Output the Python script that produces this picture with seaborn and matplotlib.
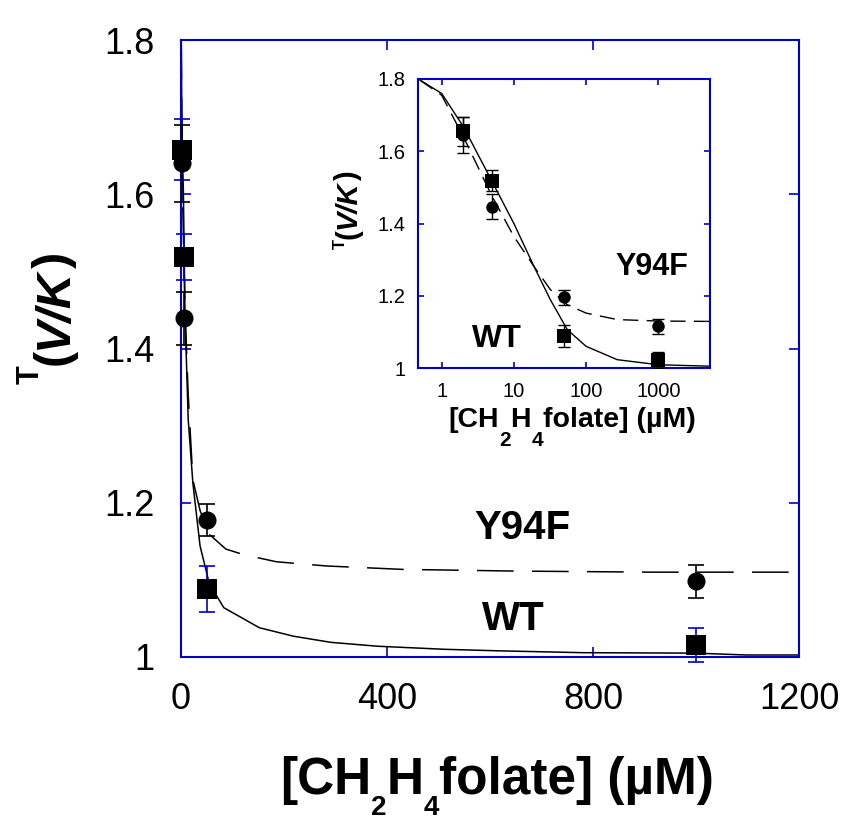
import matplotlib
matplotlib.use("Agg")
import matplotlib.pyplot as plt
import seaborn as sns
from matplotlib.ticker import FuncFormatter, NullLocator
from matplotlib.font_manager import FontProperties

# ---------------- data ----------------
conc = [2, 5, 50, 1000]                       # [CH2H4folate] (uM)
wt_main = [1.658, 1.519, 1.088, 1.016]        # T(V/K), WT, main panel
y94f_main = [1.640, 1.439, 1.178, 1.098]      # T(V/K), Y94F, main panel
wt_inset = [1.655, 1.519, 1.089, 1.022]       # inset panel
y94f_inset = [1.645, 1.447, 1.196, 1.115]
wt_err = [0.04, 0.03, 0.03, 0.022]
y94f_err = [0.05, 0.034, 0.021, 0.021]

# fitted curves as drawn in the picture
wt_fit_x_main = [0.5, 2, 4.5, 7.8, 14, 23, 37, 55, 83, 152, 218, 291, 381, 511, 617, 780, 1000, 1098, 1200]
wt_fit_y_main = [1.797, 1.668, 1.608, 1.444, 1.308, 1.226, 1.144, 1.095, 1.064, 1.038, 1.027,
                 1.019, 1.014, 1.010, 1.008, 1.0056, 1.005, 1.0026, 1.0026]
y94f_fit_x_main = [0.5, 2, 4.5, 7.8, 14, 23, 37, 55, 87, 120, 185, 283, 430, 650, 918, 1180, 1200]
y94f_fit_y_main = [1.797, 1.64, 1.55, 1.45, 1.34, 1.23, 1.19, 1.159, 1.14, 1.133, 1.1235, 1.118,
                   1.1136, 1.1114, 1.110, 1.110, 1.110]

fit_x_inset = [0.5, 1, 2, 5, 10, 19, 32, 55, 100, 270, 1000, 5200]
wt_fit_inset = [1.797, 1.76, 1.668, 1.516, 1.40, 1.281, 1.189, 1.106, 1.06, 1.023, 1.009, 1.005]
y94f_fit_inset = [1.797, 1.755, 1.64, 1.475, 1.364, 1.281, 1.217, 1.175, 1.152, 1.134, 1.13, 1.129]

main_xticks = [0, 400, 800, 1200]
main_yticks = [1.0, 1.2, 1.4, 1.6, 1.8]
inset_xticks = [1, 10, 100, 1000]
inset_yticks = [1.0, 1.2, 1.4, 1.6, 1.8]

# ---------------- style ----------------
sns.set_theme(style="white")
plt.rcParams["font.family"] = ["Liberation Sans", "DejaVu Sans"]
plt.rcParams["text.color"] = "black"
plt.rcParams["axes.labelcolor"] = "black"

BLUE = "#0000cc"
W, H = 852, 824
fig = plt.figure(figsize=(W / 100, H / 100), dpi=100)
ax = fig.add_axes([181 / W, 1 - 657 / H, 618 / W, 617 / H])
axin = fig.add_axes([418 / W, 1 - 368 / H, 292 / W, 289 / H])

fmt = FuncFormatter(lambda v, p: f"{v:g}")


def style_axes(a, length, labelsize, xpad, ypad):
    for sp in a.spines.values():
        sp.set_visible(True)
        sp.set_color(BLUE)
        sp.set_linewidth(1.5)
    a.tick_params(which="major", direction="in", color=BLUE, length=length, width=1.2,
                  bottom=True, top=True, left=True, right=True, labelcolor="black",
                  labelsize=labelsize)
    a.tick_params(axis="x", pad=xpad)
    a.tick_params(axis="y", pad=ypad)
    a.xaxis.set_major_formatter(fmt)
    a.yaxis.set_major_formatter(fmt)
    a.set_xlabel("")
    a.set_ylabel("")
    a.grid(False)


def pieced_text(pieces, x_px, y_px, rotation=0):
    """pieces: (text, size_pt, style, shift_px). x_px,y_px: centre along the
    baseline (image pixel coords, y from top). Shift >0 raises the piece."""
    r = fig.canvas.get_renderer()
    widths = []
    for s, fs, style, _ in pieces:
        prop = FontProperties(family="Liberation Sans", weight="bold", style=style, size=fs)
        w, _h, _d = r.get_text_width_height_descent(s, prop, ismath=False)
        widths.append(w)
    total = sum(widths)
    pos = -total / 2
    for (s, fs, style, shift), w in zip(pieces, widths):
        if rotation == 0:
            px, py = x_px + pos, (H - y_px) + shift
        else:
            px, py = x_px - shift, (H - y_px) + pos
        fig.text(px / W, py / H, s, fontsize=fs, fontweight="bold", fontstyle=style,
                 family="Liberation Sans", rotation=rotation, rotation_mode="anchor",
                 ha="left", va="baseline", color="black")
        pos += w


# ---------------- main panel ----------------
sns.lineplot(x=wt_fit_x_main, y=wt_fit_y_main, ax=ax, color="black", lw=1.1,
             estimator=None, sort=False)
sns.lineplot(x=y94f_fit_x_main, y=y94f_fit_y_main, ax=ax, color="black", lw=1.1,
             linestyle=(0, (24, 12)), estimator=None, sort=False)
ax.errorbar(conc, wt_main, yerr=wt_err, fmt="none", ecolor=BLUE, elinewidth=1.2,
            capsize=6, capthick=1.2, zorder=3, clip_on=False)
ax.errorbar(conc, y94f_main, yerr=y94f_err, fmt="none", ecolor="black", elinewidth=1.2,
            capsize=6, capthick=1.2, zorder=3, clip_on=False)
sns.scatterplot(x=conc, y=wt_main, ax=ax, marker="s", s=14 ** 2, color="black",
                edgecolor="black", linewidth=0, zorder=4, clip_on=False)
sns.scatterplot(x=conc, y=y94f_main, ax=ax, marker="o", s=13 ** 2, color="black",
                edgecolor="black", linewidth=0, zorder=4, clip_on=False)
ax.set_xlim(0, 1200)
ax.set_ylim(1.0, 1.8)
ax.set_xticks(main_xticks)
ax.set_yticks(main_yticks)
style_axes(ax, 7, 26, 18, 19)
ax.text(662, 1.167, "Y94F", fontsize=29, fontweight="bold", ha="center", va="center")
ax.text(645, 1.049, "WT", fontsize=29, fontweight="bold", ha="center", va="center")

# y label  T(V/K)
pieced_text([("T", 22, "normal", 28), ("(", 35, "normal", 0), ("V/K", 35, "italic", 0),
             (")", 35, "normal", 0)], 67, 318, rotation=90)
# x label  [CH2H4folate] (µM)
pieced_text([("[CH", 37, "normal", 0), ("2", 20, "normal", -21), ("H", 37, "normal", 0),
             ("4", 20, "normal", -21), ("folate] (µM)", 37, "normal", 0)], 497, 794)

# ---------------- inset ----------------
axin.set_facecolor("white")
sns.lineplot(x=fit_x_inset, y=wt_fit_inset, ax=axin, color="black", lw=1.0,
             estimator=None, sort=False)
sns.lineplot(x=fit_x_inset, y=y94f_fit_inset, ax=axin, color="black", lw=1.0,
             linestyle=(0, (11, 6)), estimator=None, sort=False)
axin.errorbar(conc, wt_inset, yerr=wt_err, fmt="none", ecolor="black", elinewidth=1.0,
              capsize=4, capthick=1.0, zorder=3)
axin.errorbar(conc, y94f_inset, yerr=y94f_err, fmt="none", ecolor="black", elinewidth=1.0,
              capsize=4, capthick=1.0, zorder=3)
sns.scatterplot(x=conc, y=wt_inset, ax=axin, marker="s", s=10 ** 2, color="black",
                edgecolor="black", linewidth=0, zorder=4)
sns.scatterplot(x=conc, y=y94f_inset, ax=axin, marker="o", s=9 ** 2, color="black",
                edgecolor="black", linewidth=0, zorder=4)
axin.set_xscale("log")
axin.set_xlim(0.47, 5200)
axin.set_ylim(1.0, 1.8)
axin.set_xticks(inset_xticks)
axin.set_yticks(inset_yticks)
axin.xaxis.set_minor_locator(NullLocator())
style_axes(axin, 4, 14.5, 10, 9)
axin.text(811, 1.28, "Y94F", fontsize=22, fontweight="bold", ha="center", va="center")
axin.text(5.78, 1.08, "WT", fontsize=23, fontweight="bold", ha="center", va="center")

pieced_text([("T", 12, "normal", 11), ("(", 21, "normal", 0), ("V/K", 21, "italic", 0),
             (")", 21, "normal", 0)], 356, 210, rotation=90)
pieced_text([("[CH", 20.5, "normal", 0), ("2", 15, "normal", -19), ("H", 20.5, "normal", 0),
             ("4", 15, "normal", -19), ("folate] (µM)", 20.5, "normal", 0)], 572, 427)

fig.savefig("out.png", dpi=100)
